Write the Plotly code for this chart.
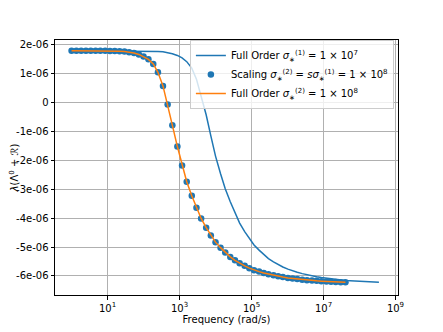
import plotly.graph_objects as go

# log10 of frequency (rad/s) grids
log_freq_scaled = [0, 0.134, 0.267, 0.4, 0.534, 0.668, 0.8, 0.935, 1.068, 1.2,
                   1.335, 1.47, 1.6, 1.735, 1.87, 2.0, 2.136, 2.27, 2.4, 2.54,
                   2.67, 2.8, 2.94, 3.07, 3.2, 3.34, 3.47, 3.6, 3.74, 3.87,
                   4.0, 4.14, 4.27, 4.41, 4.54, 4.67, 4.81, 4.94, 5.07, 5.21,
                   5.34, 5.47, 5.61, 5.74, 5.87, 6.01, 6.14, 6.27, 6.41, 6.54,
                   6.68, 6.81, 6.94, 7.08, 7.21, 7.34, 7.48, 7.61]
log_freq_full = log_freq_scaled + [7.74, 7.88, 8.01, 8.14, 8.28, 8.41, 8.54]

# eigenvalue (x1e-6) for Full Order sigma=1e8
lam_1e8 = [1.80, 1.80, 1.80, 1.80, 1.80, 1.80, 1.80, 1.80, 1.79, 1.79,
           1.78, 1.77, 1.75, 1.72, 1.67, 1.60, 1.50, 1.34, 1.05, 0.58,
           -0.06, -0.78, -1.52, -2.18, -2.74, -3.22, -3.64, -4.01, -4.33, -4.60,
           -4.83, -5.02, -5.19, -5.34, -5.46, -5.56, -5.65, -5.73, -5.80, -5.85,
           -5.90, -5.94, -5.98, -6.01, -6.04, -6.07, -6.09, -6.11, -6.13, -6.15,
           -6.16, -6.17, -6.18, -6.19, -6.20, -6.21, -6.22, -6.22]
# scaling points (x1e-6)
lam_scaling = [1.80, 1.80, 1.80, 1.80, 1.80, 1.80, 1.80, 1.80, 1.79, 1.79,
               1.78, 1.77, 1.75, 1.72, 1.67, 1.60, 1.50, 1.34, 1.05, 0.58,
               -0.06, -0.78, -1.52, -2.18, -2.74, -3.22, -3.64, -4.01, -4.33, -4.60,
               -4.83, -5.02, -5.19, -5.34, -5.46, -5.56, -5.65, -5.73, -5.80, -5.85,
               -5.90, -5.94, -5.98, -6.01, -6.04, -6.07, -6.09, -6.11, -6.13, -6.15,
               -6.16, -6.17, -6.18, -6.19, -6.20, -6.21, -6.22, -6.22]
# eigenvalue (x1e-6) for Full Order sigma=1e7
lam_1e7 = [1.80, 1.80, 1.80, 1.80, 1.80, 1.80, 1.80, 1.80, 1.80, 1.80,
           1.80, 1.80, 1.80, 1.80, 1.80, 1.795, 1.79, 1.785, 1.775, 1.76,
           1.735, 1.695, 1.635, 1.55, 1.42, 1.195, 0.815, 0.26, -0.42, -1.15,
           -1.85, -2.46, -2.98, -3.43, -3.825, -4.17, -4.465, -4.715, -4.925, -5.105,
           -5.265, -5.40, -5.51, -5.605, -5.69, -5.765, -5.825, -5.875, -5.92, -5.96,
           -5.995, -6.025, -6.055, -6.08, -6.10, -6.12, -6.14, -6.155, -6.165, -6.175,
           -6.185, -6.195, -6.205, -6.215, -6.22]

ytick_vals = [2, 1, 0, -1, -2, -3, -4, -5, -6]
ytick_text = ['2e-06', '1e-06', '0', '-1e-06', '-2e-06', '-3e-06', '-4e-06', '-5e-06', '-6e-06']
xtick_exp = [1, 3, 5, 7, 9]

blue = '#1f77b4'
orange = '#ff7f0e'

fig = go.Figure()
fig.add_trace(go.Scatter(
    x=[10 ** v for v in log_freq_full], y=[v * 1e-6 for v in lam_1e7],
    mode='lines', line=dict(color=blue, width=1.5),
    name='Full Order <i>σ</i><sub>∗</sub><sup>(1)</sup> = 1 × 10<sup>7</sup>'))
fig.add_trace(go.Scatter(
    x=[10 ** v for v in log_freq_scaled], y=[v * 1e-6 for v in lam_scaling],
    mode='markers', marker=dict(color=blue, size=6.5),
    name='Scaling <i>σ</i><sub>∗</sub><sup>(2)</sup> = <i>sσ</i><sub>∗</sub><sup>(1)</sup> = 1 × 10<sup>8</sup>'))
fig.add_trace(go.Scatter(
    x=[10 ** v for v in log_freq_scaled], y=[v * 1e-6 for v in lam_1e8],
    mode='lines', line=dict(color=orange, width=1.5),
    name='Full Order <i>σ</i><sub>∗</sub><sup>(2)</sup> = 1 × 10<sup>8</sup>'))

axis_common = dict(showline=True, linecolor='black', linewidth=1, mirror=True,
                   ticks='outside', ticklen=3.5, tickcolor='black',
                   showgrid=True, gridcolor='#b0b0b0', gridwidth=0.8,
                   zeroline=False, automargin=False,
                   tickfont=dict(size=10, color='black'))

# page body has an 8px margin, so the figure is shrunk and offset to suit
fig.update_layout(
    width=435, height=324,
    margin=dict(l=47, r=45, t=32, b=37),
    paper_bgcolor='white', plot_bgcolor='white',
    font=dict(family='DejaVu Sans', size=10, color='black'),
    xaxis=dict(type='log', range=[-0.46, 9.07],
               tickvals=[10 ** e for e in xtick_exp],
               ticktext=[f'10<sup>{e}</sup>' for e in xtick_exp],
               title=dict(text='Frequency (rad/s)', font=dict(size=10), standoff=3),
               **axis_common),
    yaxis=dict(range=[-6.66e-6, 2.17e-6],
               tickvals=[v * 1e-6 for v in ytick_vals], ticktext=ytick_text,
               title=dict(text='<i>λ</i>(Λ<sup>0</sup> + ℛ)', font=dict(size=10), standoff=0),
               **axis_common),
    legend=dict(x=0.988, y=1.0, xanchor='right', yanchor='top',
                bgcolor='rgba(255,255,255,0.8)', bordercolor='#cccccc', borderwidth=1,
                font=dict(size=10), itemwidth=30),
    showlegend=True,
)

fig.write_html("out.html")
